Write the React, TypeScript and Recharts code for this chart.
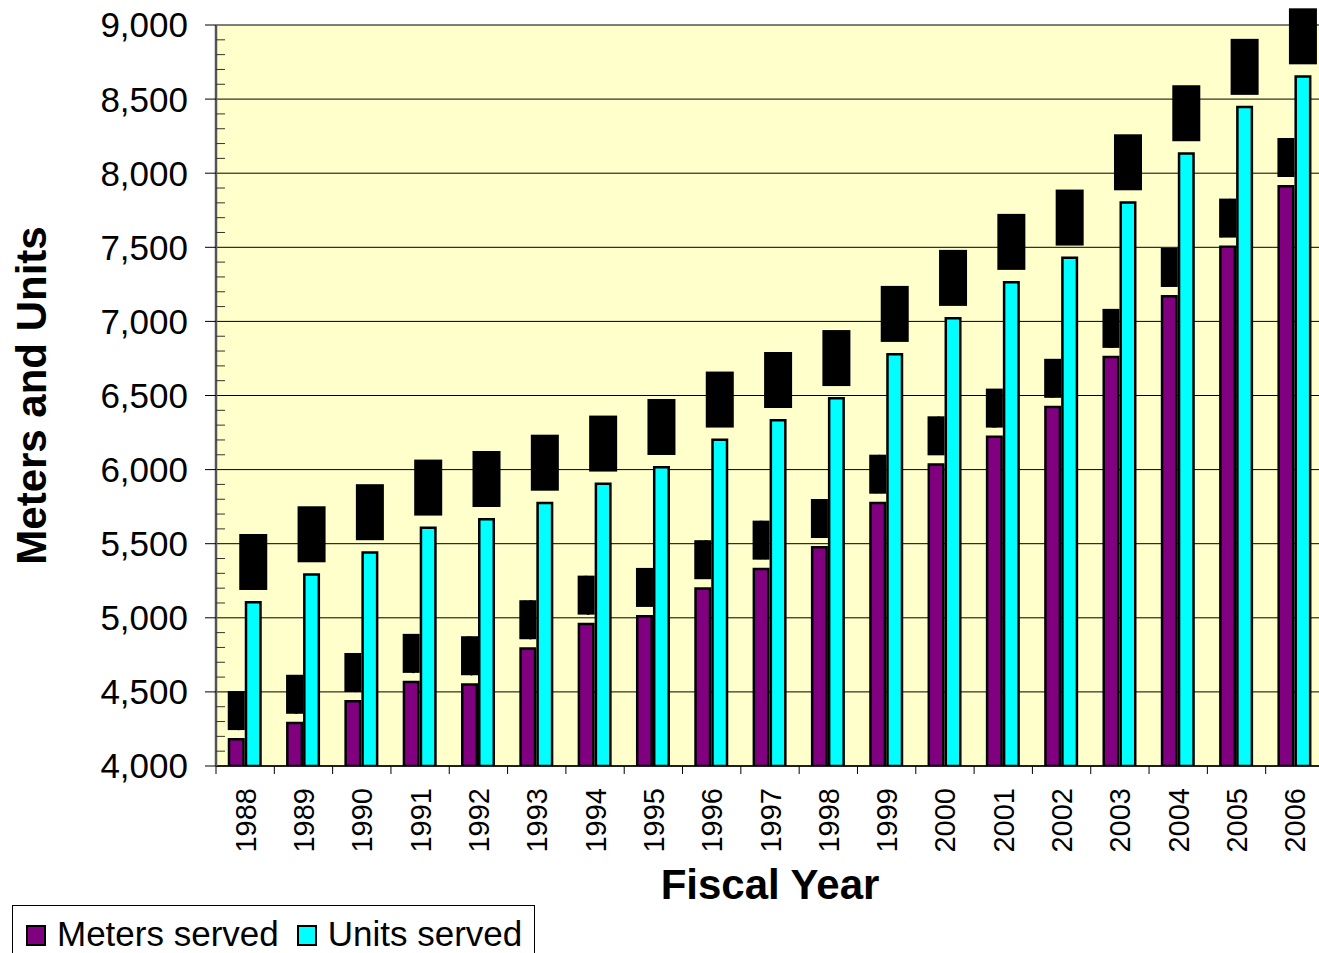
import { BarChart, Bar, XAxis, YAxis, CartesianGrid, Legend, LabelList } from 'recharts';

const FONT = '"Liberation Sans", Arial, Helvetica, sans-serif';

const years = [
  '1988', '1989', '1990', '1991', '1992', '1993', '1994', '1995', '1996', '1997',
  '1998', '1999', '2000', '2001', '2002', '2003', '2004', '2005', '2006',
];
const metersServed = [
  4180, 4290, 4437, 4566, 4550, 4793, 4959, 5011, 5198, 5330,
  5476, 5775, 6034, 6221, 6422, 6759, 7170, 7503, 7912,
];
const unitsServed = [
  5105, 5292, 5441, 5607, 5665, 5775, 5904, 6016, 6201, 6333,
  6481, 6779, 7022, 7265, 7429, 7802, 8133, 8446, 8652,
];
const majorTicks = [4000, 4500, 5000, 5500, 6000, 6500, 7000, 7500, 8000, 8500, 9000];
const minorStep = 100;

const data = years.map((year, i) => ({
  year,
  meters: metersServed[i],
  units: unitsServed[i],
}));

const allTicks: number[] = [];
for (let v = majorTicks[0]; v <= majorTicks[majorTicks.length - 1]; v += minorStep) allTicks.push(v);

const fmt = (v: number) => v.toLocaleString('en-US');

const YTick = (props: any) => {
  const { x, y, payload } = props;
  const v = payload.value as number;
  if (v % 500 !== 0) {
    return <line x1={x} y1={y} x2={x + 9} y2={y} stroke="#333" strokeWidth={1} />;
  }
  return (
    <g>
      <line x1={x - 11} y1={y} x2={x} y2={y} stroke="#000" strokeWidth={1} />
      <text x={x - 28} y={y} dy="0.355em" textAnchor="end" fontFamily={FONT} fontSize={35} fill="#000">
        {fmt(v)}
      </text>
    </g>
  );
};

const XTick = (props: any) => {
  const { x, y, payload } = props;
  const half = payload.offset || 29.15;
  return (
    <g>
      <line x1={x - half} y1={y} x2={x - half} y2={y + 8} stroke="#000" strokeWidth={1} />
      <text
        x={x + 10.5}
        y={y + 22}
        textAnchor="end"
        transform={`rotate(-90, ${x + 10.5}, ${y + 22})`}
        fontFamily={FONT}
        fontSize={29}
        fill="#000"
      >
        {payload.value}
      </text>
    </g>
  );
};

// the data labels show up as solid black blocks in the original
const blockLabel = (w: number, h: number, gap: number, size: number) => (props: any) => {
  const { x, y, width, value } = props;
  const cx = x + width / 2;
  const bottom = y - 1.25 - gap;
  return (
    <g>
      <rect x={cx - w / 2} y={bottom - h} width={w} height={h} fill="#000" />
      <text
        x={cx + size * 0.36}
        y={bottom - h / 2}
        textAnchor="middle"
        transform={`rotate(-90, ${cx + size * 0.36}, ${bottom - h / 2})`}
        fontFamily={FONT}
        fontSize={size}
        fill="#000"
      >
        {fmt(value)}
      </text>
    </g>
  );
};

const legendItems = [
  { name: 'Meters served', color: '#800080' },
  { name: 'Units served', color: '#00FFFF' },
];

const renderLegend = () => (
  <div
    style={{
      boxSizing: 'border-box',
      width: 523,
      height: 48,
      border: '1px solid #000',
      borderBottom: 'none',
      background: '#fff',
      paddingLeft: 13,
      paddingTop: 8,
      fontFamily: FONT,
      fontSize: 35,
      lineHeight: '40px',
      whiteSpace: 'nowrap',
      color: '#000',
    }}
  >
    {legendItems.map((it) => (
      <span key={it.name} style={{ marginRight: 18 }}>
        <span
          style={{
            display: 'inline-block',
            boxSizing: 'border-box',
            width: 20,
            height: 21,
            border: '2px solid #000',
            background: it.color,
            marginRight: 11,
            verticalAlign: 'baseline',
          }}
        />
        {it.name}
      </span>
    ))}
  </div>
);

export default function App() {
  return (
    <div style={{ position: 'absolute', left: 0, top: 0, width: 1319, height: 953, overflow: 'hidden', background: '#fff' }}>
      <BarChart
        width={1330}
        height={953}
        data={data}
        margin={{ top: 25, right: 6, bottom: 0, left: 0 }}
        barSize={14.5}
        barGap={2.5}
      >
        <CartesianGrid
          vertical={false}
          horizontalValues={majorTicks}
          stroke="#000"
          strokeWidth={1}
          fill="#FFFFCC"
          fillOpacity={1}
        />
        <XAxis
          dataKey="year"
          height={139}
          interval={0}
          tickSize={0}
          tickMargin={0}
          tickLine={false}
          axisLine={{ stroke: '#000', strokeWidth: 1.5 }}
          tick={<XTick />}
          label={(p: any) => {
            const vb = p.viewBox || {};
            return (
              <text
                x={vb.x + vb.width / 2}
                y={vb.y + 133}
                textAnchor="middle"
                fontFamily={FONT}
                fontWeight="bold"
                fontSize={42}
                fill="#000"
              >
                Fiscal Year
              </text>
            );
          }}
        />
        <XAxis
          xAxisId="top"
          dataKey="year"
          orientation="top"
          height={0}
          tick={false}
          tickLine={false}
          axisLine={{ stroke: '#808080', strokeWidth: 2.5 }}
        />
        <YAxis
          width={216}
          domain={[4000, 9000]}
          ticks={allTicks}
          interval={0}
          allowDataOverflow
          tickSize={0}
          tickMargin={0}
          tickLine={false}
          axisLine={{ stroke: '#555', strokeWidth: 2.5 }}
          tick={<YTick />}
          label={(p: any) => {
            const vb = p.viewBox || {};
            const lx = vb.x + 46;
            const ly = vb.y + vb.height / 2;
            return (
              <text
                x={lx}
                y={ly}
                textAnchor="middle"
                transform={`rotate(-90, ${lx}, ${ly})`}
                fontFamily={FONT}
                fontWeight="bold"
                fontSize={42}
                fill="#000"
              >
                Meters and Units
              </text>
            );
          }}
        />
        <Legend
          verticalAlign="bottom"
          align="left"
          content={renderLegend}
          wrapperStyle={{ left: 12, bottom: 0, width: 523, height: 48 }}
        />
        <Bar dataKey="meters" name="Meters served" fill="#800080" stroke="#000" strokeWidth={2.5} isAnimationActive={false}>
          <LabelList dataKey="meters" content={blockLabel(17, 39, 8, 16)} />
        </Bar>
        <Bar dataKey="units" name="Units served" fill="#00FFFF" stroke="#000" strokeWidth={2.5} isAnimationActive={false}>
          <LabelList dataKey="units" content={blockLabel(28, 56, 11, 22)} />
        </Bar>
      </BarChart>
    </div>
  );
}
